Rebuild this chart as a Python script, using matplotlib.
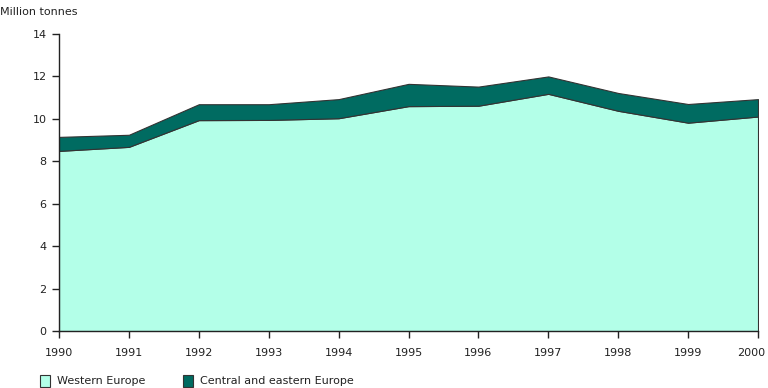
import matplotlib
matplotlib.use("Agg")
import matplotlib.pyplot as plt
import matplotlib.transforms as mtransforms
from matplotlib.patches import Rectangle

# Data (million tonnes)
years = [1990, 1991, 1992, 1993, 1994, 1995, 1996, 1997, 1998, 1999, 2000]
western = [8.49, 8.68, 9.94, 9.95, 10.03, 10.6, 10.62, 11.18, 10.38, 9.82, 10.11]
total = [9.15, 9.25, 10.69, 10.69, 10.93, 11.65, 11.52, 12.0, 11.22, 10.7, 10.93]
series_names = ["Western Europe", "Central and eastern Europe"]
series_colors = ["#b3ffe8", "#006b61"]

plt.rcParams["font.family"] = ["Verdana", "DejaVu Sans"]

fig = plt.figure(figsize=(7.68, 3.88), dpi=100)
ax = fig.add_axes([59 / 768, 1 - 331 / 388, 699 / 768, 297 / 388])

ax.fill_between(years, 0, western, facecolor=series_colors[0],
                edgecolor="#333333", linewidth=0.8)
ax.fill_between(years, western, total, facecolor=series_colors[1],
                edgecolor="#333333", linewidth=0.8)

ax.set_xlim(1990, 2000)
ax.set_ylim(0, 14)
ax.set_xticks(years)
ax.set_yticks(range(0, 15, 2))
for s in ["top", "right"]:
    ax.spines[s].set_visible(False)
for s in ["left", "bottom"]:
    ax.spines[s].set_color("#222222")
    ax.spines[s].set_linewidth(1.0)
ax.tick_params(axis="both", labelsize=8, colors="#222222", length=5, width=1.0)
ax.tick_params(axis="x", pad=7)
ax.tick_params(axis="y", pad=4)

# last year label sits a little left so it stays inside the picture
last = ax.get_xticklabels()[-1]
last.set_transform(last.get_transform() +
                   mtransforms.ScaledTranslation(-7 / 100, 0, fig.dpi_scale_trans))

fig.text(0, 1 - 12 / 388, "Million tonnes", fontsize=8, va="center", ha="left",
         color="#222222")

# legend
for x0, name, col in [(40, series_names[0], series_colors[0]),
                      (183, series_names[1], series_colors[1])]:
    fig.patches.append(Rectangle((x0 / 768, 1 - 387 / 388), 10 / 768, 12 / 388,
                                 transform=fig.transFigure, facecolor=col,
                                 edgecolor="#333333", linewidth=0.8))
    fig.text((x0 + 17) / 768, 1 - 381 / 388, name, fontsize=8, va="center",
             ha="left", color="#222222")

fig.savefig("out.png", dpi=100)
